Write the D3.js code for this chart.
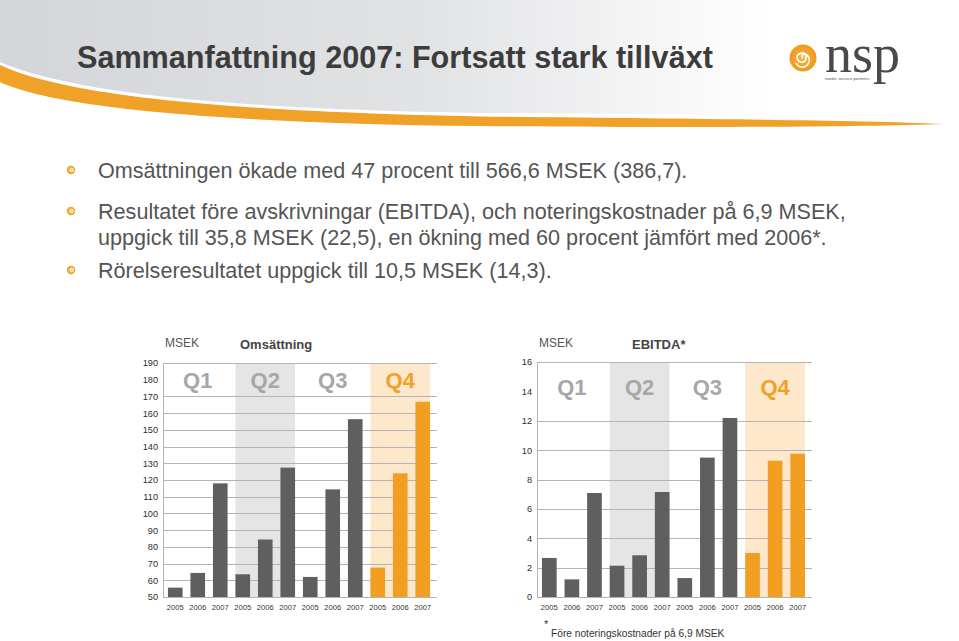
<!DOCTYPE html>
<html><head><meta charset="utf-8">
<script src="https://cdn.jsdelivr.net/npm/d3@7"></script>
<style>
html,body{margin:0;padding:0;background:#fff;}
svg{display:block;font-family:"Liberation Sans",Arial,sans-serif;}
</style></head>
<body>
<svg id="chart" width="959" height="641"></svg>
<script>
// ---- data ----
const title = "Sammanfattning 2007: Fortsatt stark tillväxt";
const bullets = [
  ["Omsättningen ökade med 47 procent till 566,6 MSEK (386,7)."],
  ["Resultatet före avskrivningar (EBITDA), och noteringskostnader på 6,9 MSEK,",
   "uppgick till 35,8 MSEK (22,5), en ökning med 60 procent jämfört med 2006*."],
  ["Rörelseresultatet uppgick till 10,5 MSEK (14,3)."]
];
const quarters = ["Q1", "Q2", "Q3", "Q4"];
const years = ["2005", "2006", "2007"];
const revenue = [
  [55.6, 64.4, 118.0],
  [63.6, 84.4, 127.4],
  [62.0, 114.4, 156.4],
  [67.6, 124.0, 166.8]
];
const ebitda = [
  [2.66, 1.20, 7.08],
  [2.13, 2.84, 7.15],
  [1.29, 9.49, 12.19],
  [3.00, 9.28, 9.76]
];
const revenueTicks = [50, 60, 70, 80, 90, 100, 110, 120, 130, 140, 150, 160, 170, 180, 190];
const ebitdaTicks = [0, 2, 4, 6, 8, 10, 12, 14, 16];
const footnote = "Före noteringskostnader på 6,9 MSEK";

// ---- drawing ----
const svg = d3.select("#chart");
const defs = svg.append("defs");
const hg = defs.append("linearGradient").attr("id", "hdr").attr("x1", 0).attr("x2", 1).attr("y1", 0).attr("y2", 0);
hg.append("stop").attr("offset", "0%").attr("stop-color", "#d4d5d8");
hg.append("stop").attr("offset", "45%").attr("stop-color", "#e2e3e5");
hg.append("stop").attr("offset", "80%").attr("stop-color", "#ffffff");

// header grey area
svg.append("path")
  .attr("d", "M0,0 H959 V118 C 850,116 700,114 480,113 C 220,109 70,92 0,62 Z")
  .attr("fill", "url(#hdr)");
// orange swoosh
svg.append("path")
  .attr("d", "M0,65 C 60,93 200,111 480,116.5 C 700,119 850,120 945,124 C 850,127 700,128 480,126 C 220,123 55,108 0,82 Z")
  .attr("fill", "#f0a128");

svg.append("text").attr("x", 77).attr("y", 68)
  .attr("font-size", 30.6).attr("font-weight", "bold").attr("fill", "#3c3c3c")
  .text(title);

// logo
const logo = svg.append("g");
const lg = defs.append("radialGradient").attr("id", "logoG");
lg.append("stop").attr("offset", "0%").attr("stop-color", "#f7b548");
lg.append("stop").attr("offset", "100%").attr("stop-color", "#ee9a1c");
logo.append("circle").attr("cx", 803).attr("cy", 58).attr("r", 13.5).attr("fill", "url(#logoG)");
logo.append("path")
  .attr("d", "M803,58 a2,2 0 1 1 3,-1 a4.5,4.5 0 1 1 -7,-3 a7,7 0 1 1 -3,9")
  .attr("fill", "none").attr("stroke", "#fff").attr("stroke-width", 1.6);
logo.append("text").attr("x", 825).attr("y", 72)
  .attr("font-family", "'Liberation Serif','DejaVu Serif',serif").attr("font-size", 54)
  .attr("fill", "#4a4a4a").text("nsp");
logo.append("text").attr("x", 825).attr("y", 80)
  .attr("font-size", 4.4).attr("fill", "#555").text("nordic service partners");

// bullets
const bg = defs.append("radialGradient").attr("id", "bulG");
bg.append("stop").attr("offset", "0%").attr("stop-color", "#fbd38a");
bg.append("stop").attr("offset", "100%").attr("stop-color", "#ee9a1c");
const bulletY = [178, 219, 278];
bullets.forEach((lines, i) => {
  svg.append("circle").attr("cx", 71).attr("cy", bulletY[i] - 8).attr("r", 4.2).attr("fill", "url(#bulG)");
  svg.append("circle").attr("cx", 71.8).attr("cy", bulletY[i] - 8).attr("r", 1.6).attr("fill", "none")
    .attr("stroke", "#fff").attr("stroke-width", 0.9);
  lines.forEach((t, j) => {
    svg.append("text").attr("x", 98).attr("y", bulletY[i] + j * 26)
      .attr("font-size", 21.6).attr("fill", "#555555").text(t);
  });
});

function drawChart(cfg) {
  const g = svg.append("g");
  const keys = [];
  quarters.forEach(q => years.forEach(y => keys.push(q + "-" + y)));
  const x = d3.scaleBand().domain(keys).range([cfg.x0, cfg.x1]).paddingInner(0.35).paddingOuter(0.22);
  const y = d3.scaleLinear().domain([cfg.ticks[0], cfg.ticks[cfg.ticks.length - 1]]).range([cfg.yBottom, cfg.yTop]);

  // shaded quarter bands
  const shades = {"Q2": "#e5e5e5", "Q4": "#fde8cb"};
  quarters.forEach(q => {
    if (!shades[q]) return;
    const a = x(q + "-" + years[0]), b = x(q + "-" + years[2]) + x.bandwidth();
    g.append("rect").attr("x", a).attr("y", y(cfg.ticks[cfg.ticks.length - 1]))
      .attr("width", b - a).attr("height", y(cfg.ticks[0]) - y(cfg.ticks[cfg.ticks.length - 1]))
      .attr("fill", shades[q]);
  });

  // gridlines (skip the row holding the quarter labels)
  g.append("g").selectAll("line").data(cfg.ticks.filter(t => t !== cfg.skip)).join("line")
    .attr("x1", cfg.x0).attr("x2", cfg.x1 + 2)
    .attr("y1", d => Math.round(y(d)) + 0.5).attr("y2", d => Math.round(y(d)) + 0.5)
    .attr("stroke", "#b4b4b4").attr("stroke-width", 1);

  // y axis
  const ax = g.append("g").attr("transform", `translate(${cfg.x0},0)`)
    .call(d3.axisLeft(y).tickValues(cfg.ticks).tickSize(0).tickPadding(5));
  ax.select(".domain").attr("stroke", "#b4b4b4");
  ax.selectAll("text").attr("font-size", 9.2).attr("fill", "#2e2e2e")
    .attr("font-family", "'Liberation Sans',Arial,sans-serif");

  // quarter labels
  quarters.forEach(q => {
    const cx = (x(q + "-" + years[0]) + x(q + "-" + years[2]) + x.bandwidth()) / 2;
    g.append("text").attr("x", cx).attr("y", cfg.qY).attr("text-anchor", "middle")
      .attr("font-size", 22).attr("font-weight", "bold")
      .attr("fill", q === "Q4" ? "#f0a128" : "#a7a7a7").text(q);
  });

  // bars
  const flat = [];
  quarters.forEach((q, qi) => years.forEach((yr, yi) => flat.push({q, yr, key: q + "-" + yr, v: cfg.values[qi][yi]})));
  g.append("g").selectAll("rect").data(flat).join("rect")
    .attr("x", d => x(d.key)).attr("width", x.bandwidth())
    .attr("y", d => y(d.v)).attr("height", d => y(cfg.ticks[0]) - y(d.v))
    .attr("fill", d => d.q === "Q4" ? "#f29e22" : "#5e5f61");

  // year labels
  const xa = g.append("g").attr("transform", `translate(0,${cfg.yBottom})`)
    .call(d3.axisBottom(x).tickSize(0).tickPadding(8).tickFormat(k => k.split("-")[1]));
  xa.select(".domain").remove();
  xa.selectAll("text").attr("font-size", 7.6).attr("fill", "#333")
    .attr("font-family", "'Liberation Sans Narrow','Liberation Sans',Arial,sans-serif");

  // titles
  g.append("text").attr("x", cfg.x0 + 2).attr("y", 347).attr("font-size", 12).attr("fill", "#555").text("MSEK");
  g.append("text").attr("x", cfg.titleX).attr("y", 349).attr("font-size", 13).attr("font-weight", "bold")
    .attr("fill", "#444").text(cfg.title);
}

drawChart({x0: 163, x1: 435, yTop: 363, yBottom: 597, ticks: revenueTicks, skip: 180,
  values: revenue, qY: 388, title: "Omsättning", titleX: 240});
drawChart({x0: 537, x1: 810, yTop: 362, yBottom: 597, ticks: ebitdaTicks, skip: 14,
  values: ebitda, qY: 395, title: "EBITDA*", titleX: 632});

// footnote
svg.append("text").attr("x", 544).attr("y", 628).attr("font-size", 11).attr("fill", "#333").text("*");
svg.append("text").attr("x", 551).attr("y", 637).attr("font-size", 10.2).attr("fill", "#333").text(footnote);
</script>
</body></html>
